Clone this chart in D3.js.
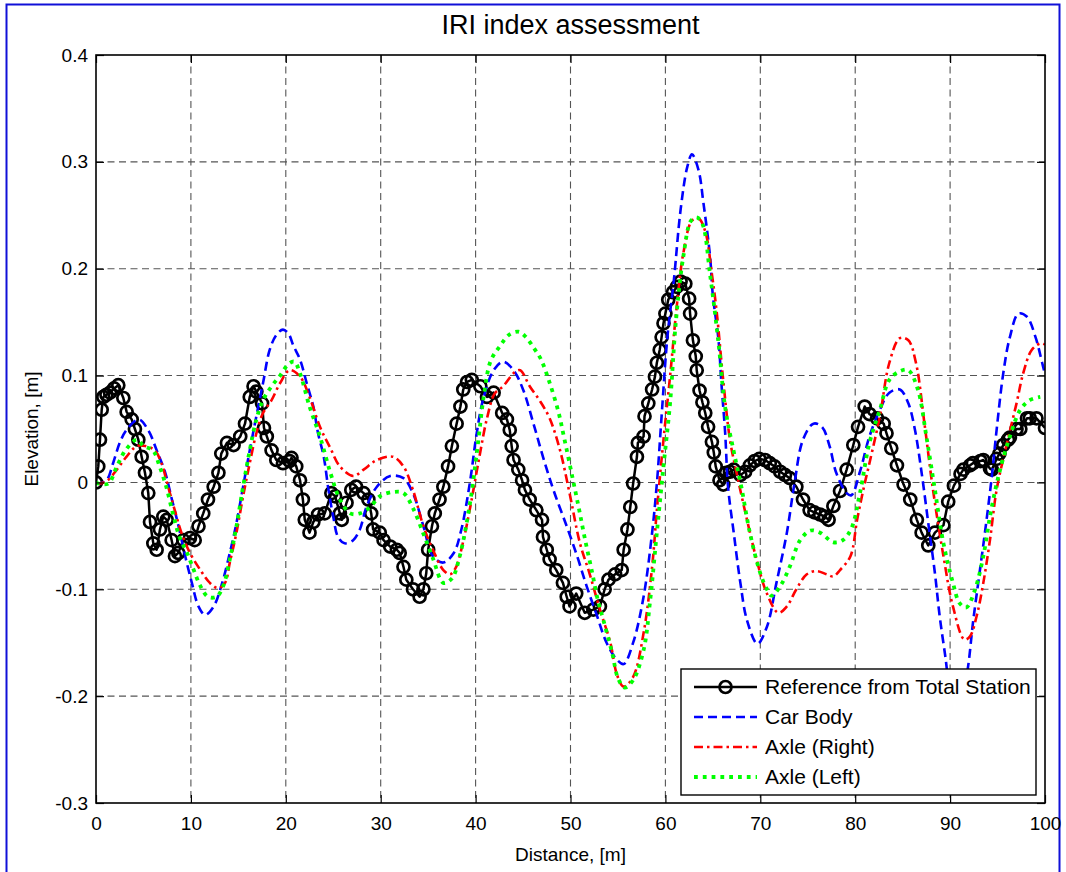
<!DOCTYPE html>
<html>
<head>
<meta charset="utf-8">
<script src="https://cdn.jsdelivr.net/npm/d3@7"></script>
<style>
  html, body { margin: 0; padding: 0; background: #ffffff; }
  svg { display: block; font-family: "Liberation Sans", Arial, Helvetica, sans-serif; }
</style>
</head>
<body>
<svg id="chart" width="1066" height="872"></svg>
<script>
// Road profile along the test section: distance [m] and elevation [m]
const referenceDist = [0,0.24,0.42,0.6,0.77,1.1,1.48,1.9,2.35,2.88,3.23,3.76,4.1,4.46,4.81,5.16,5.51,5.69,6.04,6.39,6.74,7.09,7.45,7.97,8.32,8.67,9.2,9.9,10.4,10.8,11.3,11.8,12.4,12.9,13.2,13.8,14.5,15.2,15.7,16.2,16.6,16.9,17.5,17.7,18.0,18.5,19.0,19.7,20.4,20.6,21.1,21.5,21.8,22.0,22.5,22.9,23.4,24.1,24.8,25.2,25.7,25.9,26.4,26.9,27.4,28.2,28.7,29.0,29.2,29.9,30.3,31.0,31.7,32.0,32.4,32.7,33.4,34.1,34.5,34.8,35.0,35.4,35.7,36.2,36.6,37.1,37.5,38.0,38.4,38.7,39.1,39.6,40.5,41.2,41.9,42.8,43.3,43.6,43.8,44.0,44.5,44.9,45.2,45.7,46.4,47.0,47.1,47.5,47.8,48.5,49.2,49.6,49.9,50.6,51.5,52.4,53.1,53.6,54.0,54.7,55.4,55.6,56.0,56.3,56.6,57.0,57.1,57.7,57.8,58.2,58.6,58.9,59.1,59.4,59.6,59.8,60.0,60.3,60.8,61.2,61.6,62.1,62.5,62.6,62.9,63.2,63.3,63.6,63.9,64.2,64.5,64.9,65.1,65.3,65.7,66.1,66.4,66.8,67.2,67.9,68.4,68.9,69.4,69.9,70.5,71.0,71.5,72.1,72.6,73.1,73.8,74.5,75.2,75.7,76.3,76.8,77.2,77.7,78.4,79.1,79.8,80.3,81.0,81.5,82.3,83.0,83.3,83.8,84.4,85.1,85.8,86.5,87.0,87.7,88.4,89.3,89.8,90.4,91.1,91.4,92.1,92.4,93.2,93.5,94.2,94.4,94.9,95.2,95.6,96.1,96.3,97.0,97.4,98.1,98.4,99.1,100];
const referenceElev = [0,0.015,0.040,0.068,0.080,0.082,0.084,0.088,0.091,0.079,0.066,0.059,0.050,0.040,0.024,0.009,-0.010,-0.037,-0.057,-0.063,-0.044,-0.032,-0.035,-0.054,-0.069,-0.066,-0.054,-0.052,-0.054,-0.041,-0.029,-0.016,-0.004,0.009,0.027,0.037,0.035,0.043,0.055,0.080,0.090,0.085,0.074,0.051,0.043,0.030,0.021,0.018,0.020,0.023,0.015,0.002,-0.016,-0.035,-0.047,-0.037,-0.030,-0.029,-0.010,-0.013,-0.029,-0.035,-0.019,-0.007,-0.004,-0.010,-0.016,-0.029,-0.044,-0.047,-0.054,-0.060,-0.063,-0.066,-0.079,-0.091,-0.100,-0.107,-0.100,-0.085,-0.063,-0.041,-0.029,-0.016,-0.004,0.015,0.034,0.055,0.071,0.087,0.094,0.096,0.090,0.080,0.084,0.065,0.059,0.049,0.034,0.021,0.012,0.002,-0.007,-0.016,-0.026,-0.035,-0.051,-0.063,-0.072,-0.082,-0.094,-0.107,-0.116,-0.104,-0.122,-0.119,-0.116,-0.100,-0.091,-0.086,-0.082,-0.063,-0.044,-0.023,-0.001,0.024,0.037,0.043,0.062,0.074,0.087,0.099,0.112,0.124,0.136,0.149,0.158,0.171,0.178,0.183,0.188,0.186,0.172,0.158,0.133,0.118,0.105,0.086,0.075,0.065,0.052,0.038,0.028,0.015,0.002,-0.002,0.009,0.010,0.012,0.007,0.010,0.016,0.020,0.022,0.021,0.018,0.015,0.010,0.007,0.004,-0.004,-0.016,-0.026,-0.028,-0.030,-0.032,-0.035,-0.022,-0.008,0.012,0.035,0.052,0.071,0.064,0.060,0.055,0.046,0.032,0.016,-0.002,-0.016,-0.035,-0.047,-0.059,-0.047,-0.040,-0.018,-0.003,0.008,0.012,0.016,0.018,0.020,0.021,0.013,0.012,0.022,0.027,0.035,0.040,0.042,0.050,0.050,0.060,0.060,0.060,0.051];

const carBodyDist = [0,0.24,1.1,1.8,2.5,3.2,4.5,5.5,6.4,7.3,8.0,8.7,9.4,10.1,10.8,11.5,12.4,13.2,14.1,14.8,15.5,16.2,16.9,17.6,18.3,19.0,19.7,20.3,20.8,21.5,22.2,22.9,23.4,24.0,24.5,25.0,25.5,26.2,27.1,27.8,28.5,29.6,31.0,32.4,33.4,34.5,35.5,36.6,37.7,38.5,39.4,40.1,40.8,41.9,42.9,44.0,45.0,46.1,47.1,48.2,49.6,50.7,51.7,52.8,53.8,54.9,55.6,56.6,57.7,58.6,59.1,59.6,60.2,60.9,61.6,62.3,62.8,63.5,64.0,64.7,65.0,65.6,65.9,66.3,66.6,67.2,67.9,68.6,69.7,70.7,71.7,72.8,73.6,74.5,75.6,76.5,77.3,78.0,79.1,79.6,80.5,81.5,82.6,83.6,84.7,85.6,86.3,87.0,87.7,88.4,88.9,89.5,90.0,90.7,91.4,91.9,92.4,93.1,93.8,94.4,94.9,95.6,96.3,97.2,98.1,99.0,99.7,100];
const carBodyElev = [0,-0.001,0.002,0.018,0.037,0.049,0.059,0.049,0.030,0.009,-0.016,-0.041,-0.069,-0.094,-0.116,-0.124,-0.116,-0.097,-0.066,-0.038,-0.004,0.030,0.062,0.093,0.124,0.138,0.143,0.139,0.128,0.115,0.093,0.071,0.046,0.024,-0.007,-0.032,-0.051,-0.057,-0.054,-0.044,-0.023,-0.004,0.006,0.004,-0.010,-0.041,-0.069,-0.075,-0.066,-0.044,0.000,0.045,0.078,0.105,0.113,0.105,0.087,0.055,0.024,-0.007,-0.041,-0.069,-0.097,-0.125,-0.150,-0.166,-0.170,-0.150,-0.107,-0.047,-0.001,0.062,0.135,0.190,0.255,0.295,0.307,0.292,0.262,0.212,0.175,0.133,0.093,0.046,-0.004,-0.047,-0.094,-0.129,-0.151,-0.135,-0.094,-0.047,-0.001,0.040,0.055,0.052,0.034,0.009,-0.010,-0.012,0.010,0.043,0.068,0.084,0.087,0.074,0.049,0.009,-0.038,-0.085,-0.125,-0.163,-0.195,-0.210,-0.195,-0.172,-0.132,-0.085,-0.038,0.006,0.049,0.102,0.136,0.158,0.155,0.136,0.112,0.101];

const axleRightDist = [0,0.24,1.1,2.2,3.2,4.3,5.2,6.2,6.9,7.6,8.3,9.0,9.9,11.0,12.0,12.9,13.6,14.1,14.8,15.5,16.2,16.9,17.6,18.5,19.4,20.4,21.5,22.5,23.6,24.7,25.7,27.1,28.2,29.6,31.3,32.4,33.4,34.5,35.5,36.6,37.3,37.9,38.7,39.5,40.4,41.2,42.0,42.9,44.1,44.7,45.7,46.8,47.8,48.9,49.9,51.0,52.0,53.1,54.2,54.9,55.6,56.6,57.7,58.6,59.1,59.8,60.5,61.2,61.9,62.8,63.5,64.2,64.9,65.4,66.1,66.8,67.5,68.6,69.6,70.7,71.9,72.8,73.8,74.9,75.9,77.0,77.7,78.4,79.5,80.2,80.9,81.5,82.6,83.6,84.7,85.6,86.4,87.3,88.2,89.3,90.3,91.5,92.1,92.8,93.5,94.2,94.9,96.0,97.0,97.7,98.6,99.5,100];
const axleRightElev = [0,-0.001,0.001,0.012,0.024,0.034,0.034,0.030,0.018,-0.004,-0.026,-0.047,-0.066,-0.082,-0.094,-0.099,-0.094,-0.075,-0.047,-0.013,0.018,0.046,0.065,0.077,0.093,0.105,0.099,0.080,0.052,0.032,0.015,0.006,0.012,0.021,0.024,0.015,-0.007,-0.041,-0.063,-0.082,-0.086,-0.080,-0.055,-0.020,0.024,0.060,0.083,0.090,0.103,0.105,0.090,0.076,0.060,0.030,-0.010,-0.057,-0.085,-0.119,-0.150,-0.180,-0.191,-0.182,-0.141,-0.079,-0.026,0.040,0.100,0.165,0.215,0.245,0.247,0.235,0.195,0.160,0.095,0.040,0.009,-0.035,-0.072,-0.104,-0.122,-0.116,-0.100,-0.086,-0.083,-0.086,-0.088,-0.082,-0.069,-0.035,-0.005,0.018,0.062,0.112,0.135,0.133,0.112,0.055,-0.007,-0.069,-0.116,-0.147,-0.144,-0.125,-0.094,-0.054,-0.007,0.037,0.074,0.102,0.124,0.130,0.129];

const axleLeftDist = [0,0.24,1.3,2.2,3.1,4.3,5.0,6.0,6.7,7.4,8.1,8.8,9.6,10.3,11.0,11.8,12.7,13.4,14.1,14.8,15.5,16.2,16.9,17.6,18.5,19.4,20.3,20.9,21.5,22.5,23.6,24.7,25.7,26.8,27.8,28.9,29.9,31.3,32.4,33.4,34.5,35.5,36.6,37.5,38.3,39.4,40.2,40.9,41.6,42.6,43.5,44.5,45.2,46.2,46.9,47.7,48.7,49.3,50.2,50.9,51.5,52.3,52.9,53.5,54.4,55.0,55.7,56.6,57.7,58.4,59.1,59.8,60.5,61.1,61.9,62.7,63.3,63.9,64.7,65.6,66.3,67.2,68.0,68.9,70.0,70.7,71.2,72.1,73.1,74.2,75.3,76.3,77.7,78.7,79.6,80.5,81.5,82.6,83.6,84.7,85.6,86.6,87.5,88.4,89.3,90.3,91.0,91.7,92.6,93.5,94.2,95.1,96.3,97.4,98.4,99.5];
const axleLeftElev = [0,-0.001,-0.001,0.015,0.030,0.040,0.034,0.030,0.015,-0.004,-0.029,-0.051,-0.066,-0.082,-0.097,-0.107,-0.107,-0.097,-0.072,-0.041,-0.004,0.030,0.059,0.077,0.090,0.100,0.111,0.113,0.102,0.071,0.043,0.009,-0.016,-0.029,-0.029,-0.023,-0.013,-0.009,-0.010,-0.024,-0.048,-0.071,-0.094,-0.090,-0.070,-0.020,0.033,0.083,0.114,0.128,0.138,0.141,0.137,0.125,0.115,0.096,0.067,0.043,0.005,-0.025,-0.052,-0.085,-0.111,-0.130,-0.160,-0.183,-0.192,-0.185,-0.157,-0.110,-0.047,0.015,0.075,0.150,0.212,0.245,0.248,0.242,0.195,0.130,0.070,0.029,-0.004,-0.047,-0.085,-0.100,-0.106,-0.097,-0.079,-0.054,-0.045,-0.047,-0.056,-0.054,-0.043,-0.010,0.037,0.068,0.096,0.104,0.105,0.087,0.043,-0.007,-0.057,-0.094,-0.113,-0.117,-0.101,-0.069,-0.032,0.006,0.043,0.068,0.077,0.080];

const xTicks = [0, 10, 20, 30, 40, 50, 60, 70, 80, 90, 100];
const yTicks = [-0.3, -0.2, -0.1, 0, 0.1, 0.2, 0.3, 0.4];
const yTickLabels = ["-0.3", "-0.2", "-0.1", "0", "0.1", "0.2", "0.3", "0.4"];
const seriesNames = ["Reference from Total Station", "Car Body", "Axle (Right)", "Axle (Left)"];

const toPoints = (xs, ys) => xs.map((d, i) => ({ d, v: ys[i] }));
const series = [
  { name: seriesNames[0], pts: toPoints(referenceDist, referenceElev), color: "#000000", width: 2.5, dash: null, markers: true },
  { name: seriesNames[1], pts: toPoints(carBodyDist, carBodyElev), color: "#0000ff", width: 2.6, dash: "9,5", markers: false },
  { name: seriesNames[2], pts: toPoints(axleRightDist, axleRightElev), color: "#ff0000", width: 2.6, dash: "9,4,2.5,4", markers: false },
  { name: seriesNames[3], pts: toPoints(axleLeftDist, axleLeftElev), color: "#00ff00", width: 3.8, dash: "3.8,5", markers: false }
];

const W = 1066, H = 872;
const plot = { left: 96, right: 1045, top: 55, bottom: 803 };
const svg = d3.select("#chart");

// outer figure frame
svg.append("path")
  .attr("d", `M6.5,${H} V4.5 H1059.5 V${H}`)
  .attr("fill", "none").attr("stroke", "#1010d8").attr("stroke-width", 2);

const x = d3.scaleLinear().domain([0, 100]).range([plot.left, plot.right]);
const y = d3.scaleLinear().domain([-0.3, 0.4]).range([plot.bottom, plot.top]);

// dashed grid
const grid = svg.append("g").attr("stroke", "#555555").attr("stroke-width", 1.1).attr("stroke-dasharray", "7,4.5");
grid.selectAll("line.gx").data(xTicks.slice(1, -1)).join("line")
  .attr("x1", d => x(d)).attr("x2", d => x(d))
  .attr("y1", plot.top).attr("y2", plot.bottom);
grid.selectAll("line.gy").data(yTicks.slice(1, -1)).join("line")
  .attr("x1", plot.left).attr("x2", plot.right)
  .attr("y1", d => y(d)).attr("y2", d => y(d));

// clip curves to the axes box
svg.append("clipPath").attr("id", "clip").append("rect")
  .attr("x", plot.left).attr("y", plot.top)
  .attr("width", plot.right - plot.left).attr("height", plot.bottom - plot.top);

const lineGen = d3.line().x(p => x(p.d)).y(p => y(p.v)).curve(d3.curveCatmullRom.alpha(0.5));
const lines = svg.append("g").attr("clip-path", "url(#clip)");

series.forEach(s => {
  const gen = s.markers ? d3.line().x(p => x(p.d)).y(p => y(p.v)) : lineGen;
  lines.append("path")
    .attr("d", gen(s.pts))
    .attr("fill", "none")
    .attr("stroke", s.color)
    .attr("stroke-width", s.width)
    .attr("stroke-dasharray", s.dash)
    .attr("stroke-linejoin", "round");
  if (s.markers) {
    lines.append("g").selectAll("circle").data(s.pts).join("circle")
      .attr("cx", p => x(p.d)).attr("cy", p => y(p.v)).attr("r", 6)
      .attr("fill", "none").attr("stroke", s.color).attr("stroke-width", 2.7);
  }
});

// axes box with inward ticks on all sides
const tickLen = 8;
const axesG = svg.append("g");
axesG.append("g").attr("transform", `translate(0,${plot.bottom})`)
  .call(d3.axisBottom(x).tickValues(xTicks).tickSize(-tickLen).tickPadding(14).tickFormat(d3.format("d")));
axesG.append("g").attr("transform", `translate(0,${plot.top})`)
  .call(d3.axisTop(x).tickValues(xTicks).tickSize(-tickLen).tickFormat(""));
axesG.append("g").attr("transform", `translate(${plot.left},0)`)
  .call(d3.axisLeft(y).tickValues(yTicks).tickSize(-tickLen).tickPadding(8).tickFormat((d, i) => yTickLabels[i]));
axesG.append("g").attr("transform", `translate(${plot.right},0)`)
  .call(d3.axisRight(y).tickValues(yTicks).tickSize(-tickLen).tickFormat(""));
axesG.selectAll(".domain").remove();
axesG.selectAll("line").attr("stroke", "#000").attr("stroke-width", 1.2);
axesG.selectAll("text").attr("fill", "#000").attr("font-size", 19)
  .attr("font-family", "'Liberation Sans', Arial, sans-serif");
axesG.append("rect")
  .attr("x", plot.left).attr("y", plot.top)
  .attr("width", plot.right - plot.left).attr("height", plot.bottom - plot.top)
  .attr("fill", "none").attr("stroke", "#000").attr("stroke-width", 1.6);

// title and axis labels
svg.append("text").attr("x", (plot.left + plot.right) / 2).attr("y", 34)
  .attr("text-anchor", "middle").attr("font-size", 27).text("IRI index assessment");
svg.append("text").attr("x", (plot.left + plot.right) / 2).attr("y", 861)
  .attr("text-anchor", "middle").attr("font-size", 19).text("Distance, [m]");
svg.append("text").attr("transform", `translate(38,${(plot.top + plot.bottom) / 2}) rotate(-90)`)
  .attr("text-anchor", "middle").attr("font-size", 19).text("Elevation, [m]");

// legend
const leg = { x: 681, y: 669, w: 355, h: 126, rowY: [687, 717, 747, 777] };
const legend = svg.append("g");
legend.append("rect").attr("x", leg.x).attr("y", leg.y).attr("width", leg.w).attr("height", leg.h)
  .attr("fill", "#fff").attr("stroke", "#000").attr("stroke-width", 1.4);
series.forEach((s, i) => {
  const ry = leg.rowY[i];
  legend.append("line").attr("x1", 694).attr("x2", 757).attr("y1", ry).attr("y2", ry)
    .attr("stroke", s.color).attr("stroke-width", s.width).attr("stroke-dasharray", s.dash);
  if (s.markers) {
    legend.append("circle").attr("cx", 725.5).attr("cy", ry).attr("r", 6)
      .attr("fill", "none").attr("stroke", s.color).attr("stroke-width", 2.7);
  }
  legend.append("text").attr("x", 765).attr("y", ry).attr("dy", "0.35em")
    .attr("font-size", 21).text(s.name);
});
</script>
</body>
</html>
